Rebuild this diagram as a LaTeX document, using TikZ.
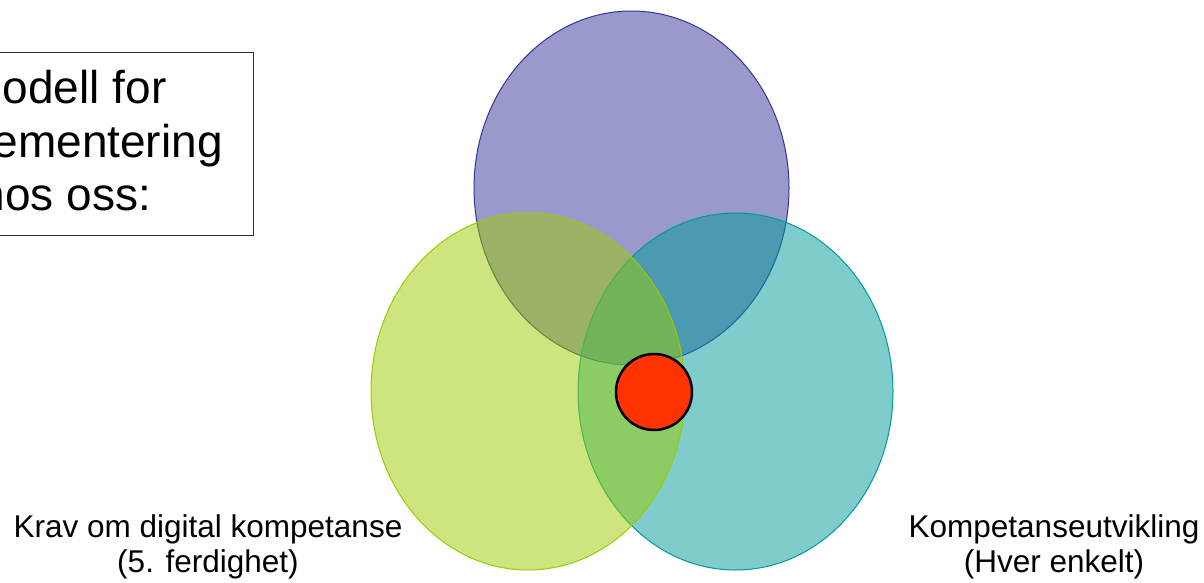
\documentclass[tikz,border=0pt]{standalone}
\usepackage{fontspec}
\setmainfont{Liberation Sans}
\usetikzlibrary{shapes.geometric}
\definecolor{purpleC}{HTML}{333399}
\definecolor{greenC}{HTML}{99CC00}
\definecolor{tealC}{HTML}{009999}
\definecolor{redC}{HTML}{FF3300}
\tikzset{
  venn/.style={ellipse, inner sep=0pt, line width=1pt, fill opacity=0.5, draw opacity=1},
  lbl/.style={font=\fontsize{31.5}{35}\selectfont, inner sep=0pt, anchor=base},
  ttl/.style={font=\fontsize{46}{53.5}\selectfont, inner sep=0pt, anchor=base}
}
\begin{document}
\begin{tikzpicture}[x=1pt,y=-1pt]
\useasboundingbox (0,0) rectangle (1204,582);
\clip (0,0) rectangle (1204,582);
\node[draw=black!80, line width=1pt, minimum width=375pt, minimum height=183pt, inner sep=0pt] (box) at (65.5,143.5) {};
\node[ttl] (t1) at (65.5,103) {Modell for};
\node[ttl] (t2) at (65.5,157) {implementering};
\node[ttl] (t3) at (65.5,210) {hos oss:};
\node[venn, draw=purpleC, fill=purpleC, minimum width=315pt, minimum height=354pt] (top) at (631.5,188) {};
\node[venn, draw=tealC, fill=tealC, minimum width=315pt, minimum height=357pt] (right) at (735.5,391.5) {};
\node[venn, draw=greenC, fill=greenC, minimum width=314pt, minimum height=357pt] (left) at (528,391.5) {};
\node[circle, draw=black, line width=2.5pt, fill=redC, minimum size=76pt, inner sep=0pt] (core) at (654,392) {};
\node[lbl] (l1) at (208,537) {Krav om digital kompetanse};
\node[lbl] (l2) at (208,572) {(5. ferdighet)};
\node[lbl] (r1) at (1054,537) {Kompetanseutvikling};
\node[lbl] (r2) at (1054,572) {(Hver enkelt)};
\end{tikzpicture}
\end{document}
